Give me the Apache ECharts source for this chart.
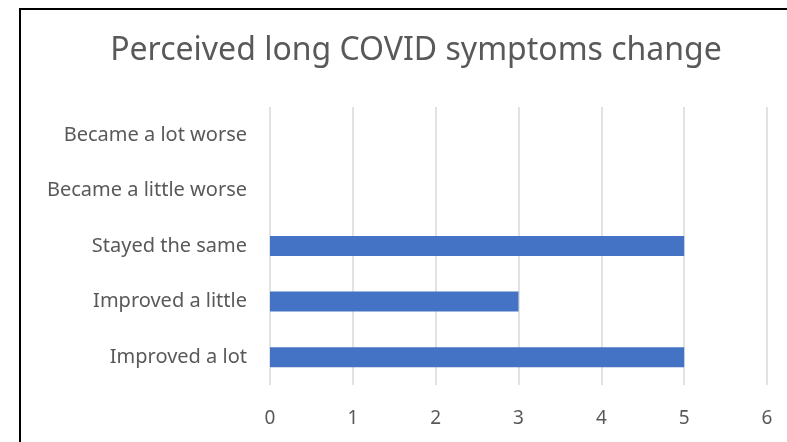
<!DOCTYPE html>
<html>
<head>
<meta charset="utf-8">
<script src="https://cdn.jsdelivr.net/npm/echarts@6/dist/echarts.min.js"></script>
<style>
  html, body { margin: 0; padding: 0; background: #fff; }
  #chart { width: 787px; height: 442px; }
</style>
</head>
<body>
<div id="chart"></div>
<script>
// 类目（从下到上）
const categories = [
  "Improved a lot",
  "Improved a little",
  "Stayed the same",
  "Became a little worse",
  "Became a lot worse"
];
// 数值
const counts = [5, 3, 5, 0, 0];
// x 轴刻度
const xTicks = [0, 1, 2, 3, 4, 5, 6];

const textColor = "#595959";
const font = "Noto Sans";

const chart = echarts.init(document.getElementById("chart"));
chart.setOption({
  backgroundColor: "#fff",
  animation: false,
  title: {
    text: "Perceived long COVID symptoms change",
    left: 411,
    top: 30,
    textAlign: "center",
    textStyle: { fontFamily: font, fontSize: 32, fontWeight: "normal", color: textColor }
  },
  graphic: [{
    type: "rect",
    shape: { x: 20, y: 9, width: 790, height: 460 },
    style: { fill: "none", stroke: "#000", lineWidth: 2 },
    silent: true
  }],
  grid: { left: 270, right: 20, top: 107, bottom: 57 },
  xAxis: {
    type: "value",
    min: xTicks[0],
    max: xTicks[xTicks.length - 1],
    interval: 1,
    axisLine: { show: false },
    axisTick: { show: false },
    axisLabel: { fontFamily: font, fontSize: 19, color: textColor, margin: 24 },
    splitLine: { lineStyle: { color: "#d9d9d9", width: 1.5 } }
  },
  yAxis: {
    type: "category",
    data: categories,
    axisLine: { show: false },
    axisTick: { show: false },
    axisLabel: { fontFamily: font, fontSize: 20, color: textColor, margin: 23 }
  },
  series: [{
    type: "bar",
    data: counts,
    barWidth: 20,
    itemStyle: { color: "#4472C4" }
  }]
});
</script>
</body>
</html>
